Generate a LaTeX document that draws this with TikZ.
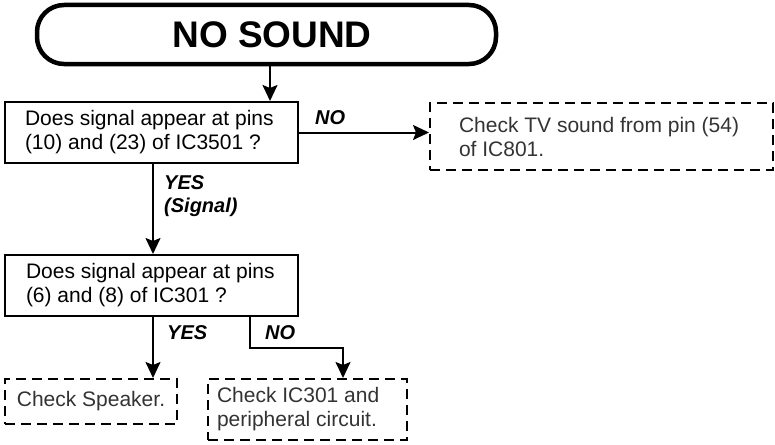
\documentclass[tikz,border=0pt]{standalone}
\usepackage{fontspec}
\setmainfont{Liberation Sans}
\usetikzlibrary{arrows.meta}
\begin{document}
\begin{tikzpicture}[x=1pt,y=-1pt,
  txt/.style={font=\fontsize{21}{24}\selectfont, execute at begin node={\spaceskip=0pt\xspaceskip=0pt\relax}},
  qbox/.style={draw, line width=2pt, txt, align=left, minimum height=61pt},
  dbox/.style={draw, line width=2pt, dash pattern=on 10pt off 6pt, txt, text=black!80, align=left},
  lbl/.style={font=\fontsize{20}{23}\selectfont\bfseries\itshape, inner sep=0pt},
  arr/.style={line width=2pt, -{Stealth[length=16pt,width=15pt,inset=3pt]}},
]
\useasboundingbox (0,0) rectangle (775,444);
\node[draw, line width=4.5pt, rounded corners=27pt, minimum width=459pt, minimum height=59pt,
      font=\fontsize{37}{40}\selectfont\bfseries] (title) at (266.5,34.5) {\hspace*{11pt}NO SOUND};
\node[qbox, minimum width=293pt, inner xsep=20pt, text width=253pt] (box1) at (151.5,132.5)
  {Does signal appear at pins\\(10) and (23) of IC3501 ?};
\node[qbox, minimum width=293pt, inner xsep=21pt, text width=251pt] (box2) at (151.5,285.5)
  {Does signal appear at pins\\(6) and (8) of IC301 ?};
\node[dbox, minimum width=343pt, minimum height=67pt, inner xsep=29pt, text width=285pt] (dash1) at (601.5,136.5)
  {Check TV sound from pin (54)\\of IC801.};
\node[dbox, minimum width=172pt, minimum height=45pt, align=center] (spk) at (91,401.5)
  {Check Speaker.};
\node[dbox, minimum width=199pt, minimum height=61pt, inner xsep=9pt, text width=181pt] (box3) at (307.5,409.5)
  {Check IC301 and\\peripheral circuit.};
\node[lbl, anchor=west] (no1) at (315,118) {NO};
\node[lbl, anchor=base west, align=left] (yes1) at (164,212) {YES\\(Signal)};
\node[lbl, anchor=west] (yes2) at (167,333) {YES};
\node[lbl, anchor=west] (no2) at (265,333) {NO};
\coordinate (xa) at (270,0);
\coordinate (xb) at (153,0);
\coordinate (xc) at (250,0);
\coordinate (xd) at (343,0);
\coordinate (yd) at (0,348);
\draw[arr] (title.south -| xa) -- (box1.north -| xa);
\draw[arr] (box1.east) -- (box1.east -| dash1.west);
\draw[arr] (box1.south -| xb) -- (box2.north -| xb);
\draw[arr] (box2.south -| xb) -- (spk.north -| xb);
\draw[arr] (box2.south -| xc) -- (xc |- yd) -- (xd |- yd) -- (box3.north -| xd);
\end{tikzpicture}
\end{document}
